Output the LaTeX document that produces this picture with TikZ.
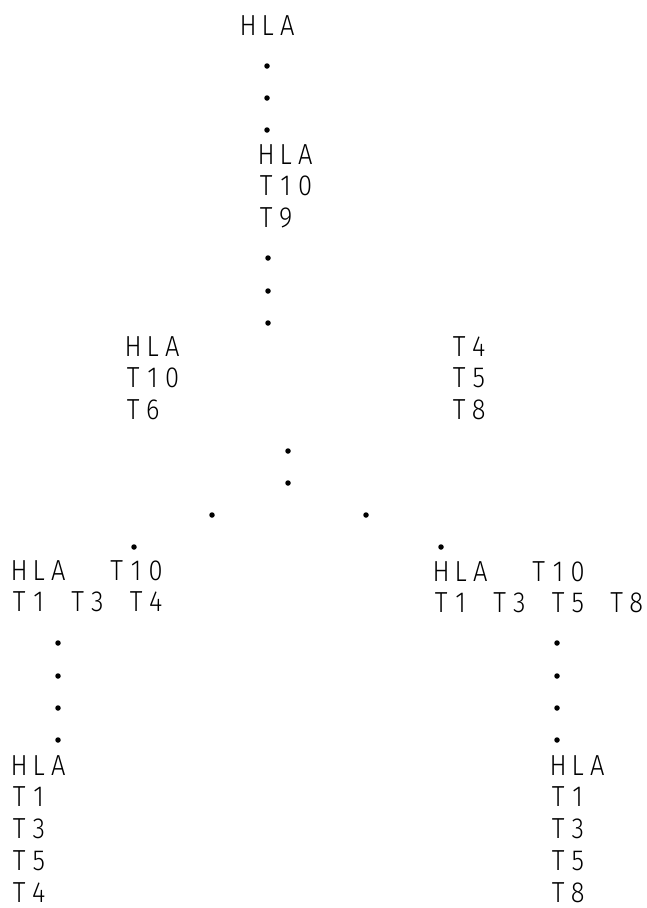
\documentclass[tikz,border=0pt]{standalone}
\usepackage{fontspec}
\newfontfamily\plotfont[FakeStretch=0.88]{Fira Sans Light}
% fixed character cell, as on a pen plotter
\newlength\cellw
\setlength\cellw{19.5pt}
\ExplSyntaxOn
\NewDocumentCommand\mono{m}{\tl_map_inline:nn{#1}{\makebox[\cellw][c]{##1}}}
\ExplSyntaxOff
\newcommand\lines[1]{\vtop{#1}}
\tikzset{
  block/.style={inner sep=0pt, outer sep=0pt, anchor=base west,
    font=\plotfont\fontsize{29}{31.8}\selectfont},
  bead/.style={circle, fill=black, draw=none, inner sep=0pt, minimum size=5.5pt}
}
\begin{document}
\begin{tikzpicture}[x=1pt, y=-1pt]
\useasboundingbox (0,0) rectangle (647,908);

% haplotype blocks
\node[block] (root)  at (238.5,35)  {\lines{\hbox{\mono{HLA}}}};
\node[block] (mid)   at (256.5,164) {\lines{\hbox{\mono{HLA}}\hbox{\mono{T10}}\hbox{\mono{T9}}}};
\node[block] (lmid)  at (123.5,356) {\lines{\hbox{\mono{HLA}}\hbox{\mono{T10}}\hbox{\mono{T6}}}};
\node[block] (rmid)  at (449.5,356) {\lines{\hbox{\mono{T4}}\hbox{\mono{T5}}\hbox{\mono{T8}}}};
\node[block] (lbr)   at (9.5,580)   {\lines{\hbox{\mono{HLA~~T10}}\hbox{\mono{T1~T3~T4}}}};
\node[block] (rbr)   at (431.5,581) {\lines{\hbox{\mono{HLA~~T10}}\hbox{\mono{T1~T3~T5~T8}}}};
\node[block] (lleaf) at (9.5,775)   {\lines{\hbox{\mono{HLA}}\hbox{\mono{T1}}\hbox{\mono{T3}}\hbox{\mono{T5}}\hbox{\mono{T4}}}};
\node[block] (rleaf) at (548.5,775) {\lines{\hbox{\mono{HLA}}\hbox{\mono{T1}}\hbox{\mono{T3}}\hbox{\mono{T5}}\hbox{\mono{T8}}}};

% dotted descent lines
\foreach \x/\y [count=\i] in {
  267/66, 267/98, 267/130,
  268/258, 268/291, 268/323,
  288/451, 288/483,
  212/515, 134/547,
  366/515, 441/547,
  58/643, 58/676, 58/708, 58/740,
  557/643, 557/676, 557/708, 557/740}
  \node[bead] (d\i) at (\x,\y) {};
\end{tikzpicture}
\end{document}
